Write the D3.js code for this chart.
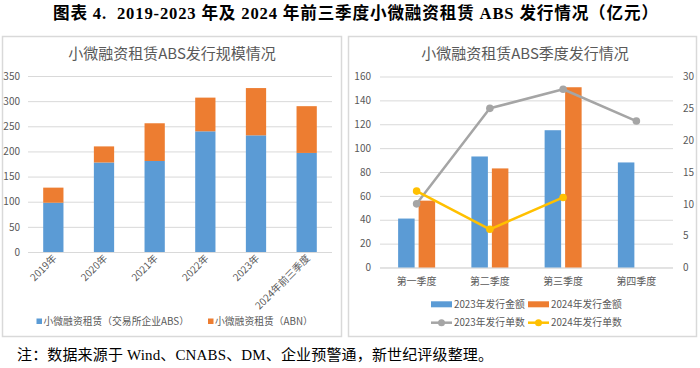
<!DOCTYPE html>
<html>
<head>
<meta charset="utf-8">
<script src="https://cdn.jsdelivr.net/npm/d3@7"></script>
<style>
  body { margin: 0; background: #fff; }
  svg { display: block; }
</style>
</head>
<body>
<svg id="chart" width="700" height="368"></svg>
<script>
// data - left chart (annual)
const years = ["2019年", "2020年", "2021年", "2022年", "2023年", "2024年前三季度"];
const exchangeABS = [98, 178, 181, 240, 232, 197];
const abn = [30, 32, 75, 67, 94, 93];
const annualSeries = ["小微融资租赁（交易所企业ABS）", "小微融资租赁（ABN）"];
const annualTicks = [0, 50, 100, 150, 200, 250, 300, 350];

// data - right chart (quarterly)
const quarters = ["第一季度", "第二季度", "第三季度", "第四季度"];
const amount2023 = [41, 93, 115, 88];
const amount2024 = [56, 83, 151, null];
const count2023 = [10, 25, 28, 23];
const count2024 = [12, 6, 11, null];
const amountTicks = [0, 20, 40, 60, 80, 100, 120, 140, 160];
const countTicks = [0, 5, 10, 15, 20, 25, 30];

const BLUE = "#5b9bd5", ORANGE = "#ed7d31", GRAY = "#a5a5a5", GOLD = "#ffc000";
const GRID = "#d9d9d9", TXT = "#595959";
const SANS = "'Noto Sans CJK SC', 'Noto Sans', sans-serif";
const SERIF = "'Liberation Serif', 'Noto Sans CJK SC', serif";

const svg = d3.select("#chart");

// figure title
svg.append("text")
    .attr("x", 53).attr("y", 18.5)
    .attr("textLength", 605)
    .attr("lengthAdjust", "spacing")
    .style("white-space", "pre")
    .style("font-family", SERIF)
    .style("font-weight", "bold")
    .style("font-size", "16.6px")
    .attr("fill", "#000")
    .text("图表 4.  2019-2023 年及 2024 年前三季度小微融资租赁 ABS 发行情况（亿元）");

// panels
svg.append("rect").attr("x", 2.5).attr("y", 36.5).attr("width", 339).attr("height", 300)
    .attr("fill", "#fff").attr("stroke", GRID).attr("stroke-width", 1.5);
svg.append("rect").attr("x", 348.5).attr("y", 36.5).attr("width", 348).attr("height", 300)
    .attr("fill", "#fff").attr("stroke", GRID).attr("stroke-width", 1.5);

// ---------- left chart ----------
const left = svg.append("g");

left.append("text")
    .attr("x", 172).attr("y", 59)
    .attr("text-anchor", "middle")
    .style("font-family", SANS).style("font-size", "15px")
    .attr("fill", TXT)
    .text("小微融资租赁ABS发行规模情况");

const xA = d3.scaleBand().domain(years).range([28, 332]).paddingInner(0.6).paddingOuter(0.3);
const yA = d3.scaleLinear().domain([0, 350]).range([252, 76]);

left.append("g")
    .attr("transform", "translate(28,0)")
    .call(d3.axisLeft(yA).tickValues(annualTicks).tickSize(-304).tickPadding(8))
    .call(g => g.select(".domain").remove())
    .call(g => g.selectAll(".tick line").attr("stroke", GRID))
    .call(g => g.selectAll(".tick text").attr("fill", TXT)
        .style("font-family", SANS).style("font-size", "10px"));

const stacked = years.map((y, i) => ({ year: y, a: exchangeABS[i], b: abn[i] }));
const stack = d3.stack().keys(["a", "b"])(stacked);
const stackColors = [BLUE, ORANGE];

left.selectAll(".layer")
    .data(stack)
    .join("g")
    .attr("fill", (d, i) => stackColors[i])
    .selectAll("rect")
    .data(d => d)
    .join("rect")
    .attr("x", d => xA(d.data.year))
    .attr("width", xA.bandwidth())
    .attr("y", d => yA(d[1]))
    .attr("height", d => yA(d[0]) - yA(d[1]));

left.append("line")
    .attr("x1", 28).attr("x2", 332).attr("y1", 252.5).attr("y2", 252.5)
    .attr("stroke", GRID);

left.selectAll(".xlab")
    .data(years)
    .join("text")
    .attr("text-anchor", "end")
    .attr("transform", d => `translate(${xA(d) + xA.bandwidth() / 2 + 4},${259}) rotate(-45)`)
    .style("font-family", SANS).style("font-size", "10px")
    .attr("fill", TXT)
    .text(d => d);

// legend left
const legA = left.append("g");
const legAx = [36.5, 208];
annualSeries.forEach((s, i) => {
    legA.append("rect").attr("x", legAx[i]).attr("y", 318.5).attr("width", 5.5).attr("height", 5.5)
        .attr("fill", stackColors[i]);
    legA.append("text").attr("x", legAx[i] + 7).attr("y", 324.5)
        .style("font-family", SANS).style("font-size", "9.8px")
        .attr("fill", TXT).text(s);
});

// ---------- right chart ----------
const right = svg.append("g");

right.append("text")
    .attr("x", 525).attr("y", 59)
    .attr("text-anchor", "middle")
    .style("font-family", SANS).style("font-size", "15px")
    .attr("fill", TXT)
    .text("小微融资租赁ABS季度发行情况");

const xQ = d3.scaleBand().domain(quarters).range([380, 673]);
const xSub = d3.scaleBand().domain(["2023", "2024"]).range([0, xQ.bandwidth()])
    .paddingInner(0.195).paddingOuter(0.884);
const yL = d3.scaleLinear().domain([0, 160]).range([267.5, 76.5]);
const yR = d3.scaleLinear().domain([0, 30]).range([267.5, 76.5]);

right.append("g")
    .attr("transform", "translate(380,0)")
    .call(d3.axisLeft(yL).tickValues(amountTicks).tickSize(-293).tickPadding(9))
    .call(g => g.select(".domain").remove())
    .call(g => g.selectAll(".tick line").attr("stroke", GRID))
    .call(g => g.selectAll(".tick text").attr("fill", TXT)
        .style("font-family", SANS).style("font-size", "10px"));

right.append("g")
    .attr("transform", "translate(673,0)")
    .call(d3.axisRight(yR).tickValues(countTicks).tickSize(0).tickPadding(10))
    .call(g => g.select(".domain").remove())
    .call(g => g.selectAll(".tick text").attr("fill", TXT)
        .style("font-family", SANS).style("font-size", "10px"));

right.append("line")
    .attr("x1", 380).attr("x2", 673).attr("y1", 268).attr("y2", 268)
    .attr("stroke", GRID);

const amountRows = [
    { key: "2023", vals: amount2023, color: BLUE },
    { key: "2024", vals: amount2024, color: ORANGE }
];
amountRows.forEach(r => {
    right.append("g").attr("fill", r.color)
        .selectAll("rect")
        .data(quarters.map((q, i) => ({ q, v: r.vals[i] })).filter(d => d.v != null))
        .join("rect")
        .attr("x", d => xQ(d.q) + xSub(r.key))
        .attr("width", xSub.bandwidth())
        .attr("y", d => yL(d.v))
        .attr("height", d => yL(0) - yL(d.v));
});

const countRows = [
    { vals: count2023, color: GRAY },
    { vals: count2024, color: GOLD }
];
const line = d3.line()
    .defined(d => d.v != null)
    .x(d => xQ(d.q) + xQ.bandwidth() / 2)
    .y(d => yR(d.v));
countRows.forEach(r => {
    const pts = quarters.map((q, i) => ({ q, v: r.vals[i] }));
    right.append("path").datum(pts)
        .attr("d", line)
        .attr("fill", "none").attr("stroke", r.color).attr("stroke-width", 2.5)
        .attr("stroke-linejoin", "round");
    right.selectAll(null)
        .data(pts.filter(d => d.v != null))
        .join("circle")
        .attr("cx", d => xQ(d.q) + xQ.bandwidth() / 2)
        .attr("cy", d => yR(d.v))
        .attr("r", 3.8)
        .attr("fill", r.color);
});

right.selectAll(".qlab")
    .data(quarters)
    .join("text")
    .attr("x", d => xQ(d) + xQ.bandwidth() / 2)
    .attr("y", 285)
    .attr("text-anchor", "middle")
    .style("font-family", SANS).style("font-size", "10px")
    .attr("fill", TXT)
    .text(d => d);

// legend right
const legItems = [
    { label: "2023年发行金额", color: BLUE, kind: "bar", x: 431, y: 304.3 },
    { label: "2024年发行金额", color: ORANGE, kind: "bar", x: 528, y: 304.3 },
    { label: "2023年发行单数", color: GRAY, kind: "line", x: 431, y: 322.7 },
    { label: "2024年发行单数", color: GOLD, kind: "line", x: 528, y: 322.7 }
];
legItems.forEach(d => {
    if (d.kind === "bar") {
        right.append("rect").attr("x", d.x).attr("y", d.y - 3).attr("width", 21).attr("height", 6)
            .attr("fill", d.color);
    } else {
        right.append("line").attr("x1", d.x).attr("x2", d.x + 21).attr("y1", d.y).attr("y2", d.y)
            .attr("stroke", d.color).attr("stroke-width", 2.5);
        right.append("circle").attr("cx", d.x + 10.5).attr("cy", d.y).attr("r", 3.5).attr("fill", d.color);
    }
    right.append("text").attr("x", d.x + 23).attr("y", d.y + 3.6)
        .style("font-family", SANS).style("font-size", "9.8px")
        .attr("fill", TXT).text(d.label);
});

// footnote
svg.append("text")
    .attr("x", 17).attr("y", 359.5)
    .attr("textLength", 476)
    .attr("lengthAdjust", "spacing")
    .style("font-family", SERIF).style("font-size", "15px")
    .attr("fill", "#000")
    .text("注：数据来源于 Wind、CNABS、DM、企业预警通，新世纪评级整理。");
</script>
</body>
</html>
